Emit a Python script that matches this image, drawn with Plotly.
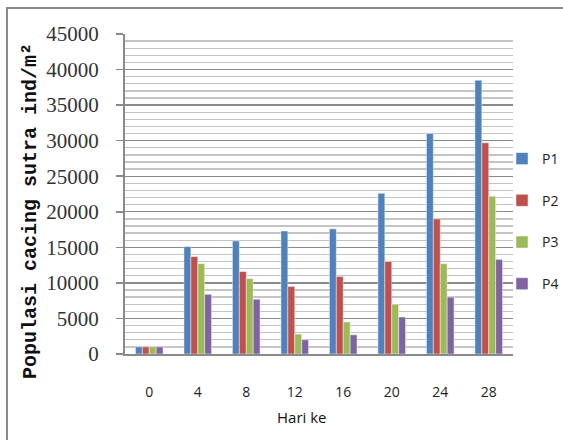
import plotly.graph_objects as go

days = ["0", "4", "8", "12", "16", "20", "24", "28"]
p1 = [1000, 15100, 15900, 17300, 17600, 22600, 31000, 38500]
p2 = [1000, 13700, 11600, 9500, 10900, 13000, 19000, 29700]
p3 = [1000, 12700, 10600, 2800, 4500, 7000, 12700, 22200]
p4 = [1000, 8400, 7700, 2000, 2700, 5200, 8000, 13300]
series_names = ["P1", "P2", "P3", "P4"]
series_values = [p1, p2, p3, p4]
colors = ["#4F81BD", "#C0504D", "#9BBB59", "#8064A2"]
y_ticks = [0, 5000, 10000, 15000, 20000, 25000, 30000, 35000, 40000, 45000]

W, H = 563, 440
L, T = 125, 34
pw, ph = 388, 320
R, B = W - L - pw, H - T - ph


def px_x(x):
    return (x - L) / pw


def px_y(y):
    return (T + ph - y) / ph


fig = go.Figure()
for i, (name, vals) in enumerate(zip(series_names, series_values)):
    fig.add_trace(go.Bar(
        x=days, y=vals, name=name, legendgroup=name,
        marker=dict(color=colors[i], line=dict(color="rgba(255,255,255,0.45)", width=1)),
    ))

fig.update_layout(
    width=W, height=H,
    margin=dict(l=L, r=R, t=T, b=B, autoexpand=False),
    paper_bgcolor="white", plot_bgcolor="white",
    barmode="group", bargap=0.43, bargroupgap=0,
    font=dict(family="Open Sans", color="#222"),
    showlegend=True,
    hovermode=False,
    legend=dict(
        x=px_x(502), y=px_y(143), xanchor="left", yanchor="top",
        font=dict(family="Open Sans", size=14, color="#222"),
        tracegroupgap=20.5, itemwidth=30,
        bgcolor="rgba(0,0,0,0)",
    ),
    xaxis=dict(
        type="category", showline=True, linecolor="#8a8a8a", linewidth=2,
        ticks="", ticklabelstandoff=24,
        tickfont=dict(family="Open Sans", size=14, color="#222"),
        showgrid=False, zeroline=False,
    ),
    yaxis=dict(
        range=[0, 45000], tickvals=y_ticks,
        ticktext=[str(v) for v in y_ticks],
        showline=True, linecolor="#8a8a8a", linewidth=2,
        ticks="outside", ticklen=7, tickwidth=1.5, tickcolor="#8a8a8a",
        ticklabelstandoff=13,
        tickfont=dict(family="Liberation Serif, Times New Roman, serif", size=21, color="#333"),
        showgrid=True, gridcolor="#8a8a8a", gridwidth=1.4,
        zeroline=False,
        minor=dict(dtick=1000, showgrid=True, gridcolor="#c4c4c4", gridwidth=1.3, ticks=""),
    ),
    annotations=[
        dict(text="Populasi cacing sutra ind/m²", textangle=-90,
             x=px_x(30), y=px_y(211), xref="paper", yref="paper",
             showarrow=False, xanchor="center", yanchor="middle",
             font=dict(family="Liberation Mono", size=20, color="#111", weight="bold")),
        dict(text="Hari ke", x=px_x(302), y=px_y(417), xref="paper", yref="paper",
             showarrow=False, xanchor="center", yanchor="middle",
             font=dict(family="Open Sans", size=15, color="#111")),
    ],
    shapes=[
        dict(type="line", xref="paper", yref="paper",
             x0=px_x(6), x1=px_x(W), y0=px_y(8), y1=px_y(8),
             line=dict(color="#8a8a8a", width=2)),
        dict(type="line", xref="paper", yref="paper",
             x0=px_x(7), x1=px_x(7), y0=px_y(8), y1=px_y(H),
             line=dict(color="#8a8a8a", width=2)),
    ],
)

# let the figure sit at the window's corner: no default body margin, no scrollbars
page_js = (
    "document.body.style.margin='0';"
    "document.documentElement.style.overflow='hidden';"
    "document.body.style.overflow='hidden';"
    "document.documentElement.style.scrollbarWidth='none';"
)

fig.write_html("out.html", post_script=page_js,
               config={"displayModeBar": False, "displaylogo": False, "staticPlot": True})
